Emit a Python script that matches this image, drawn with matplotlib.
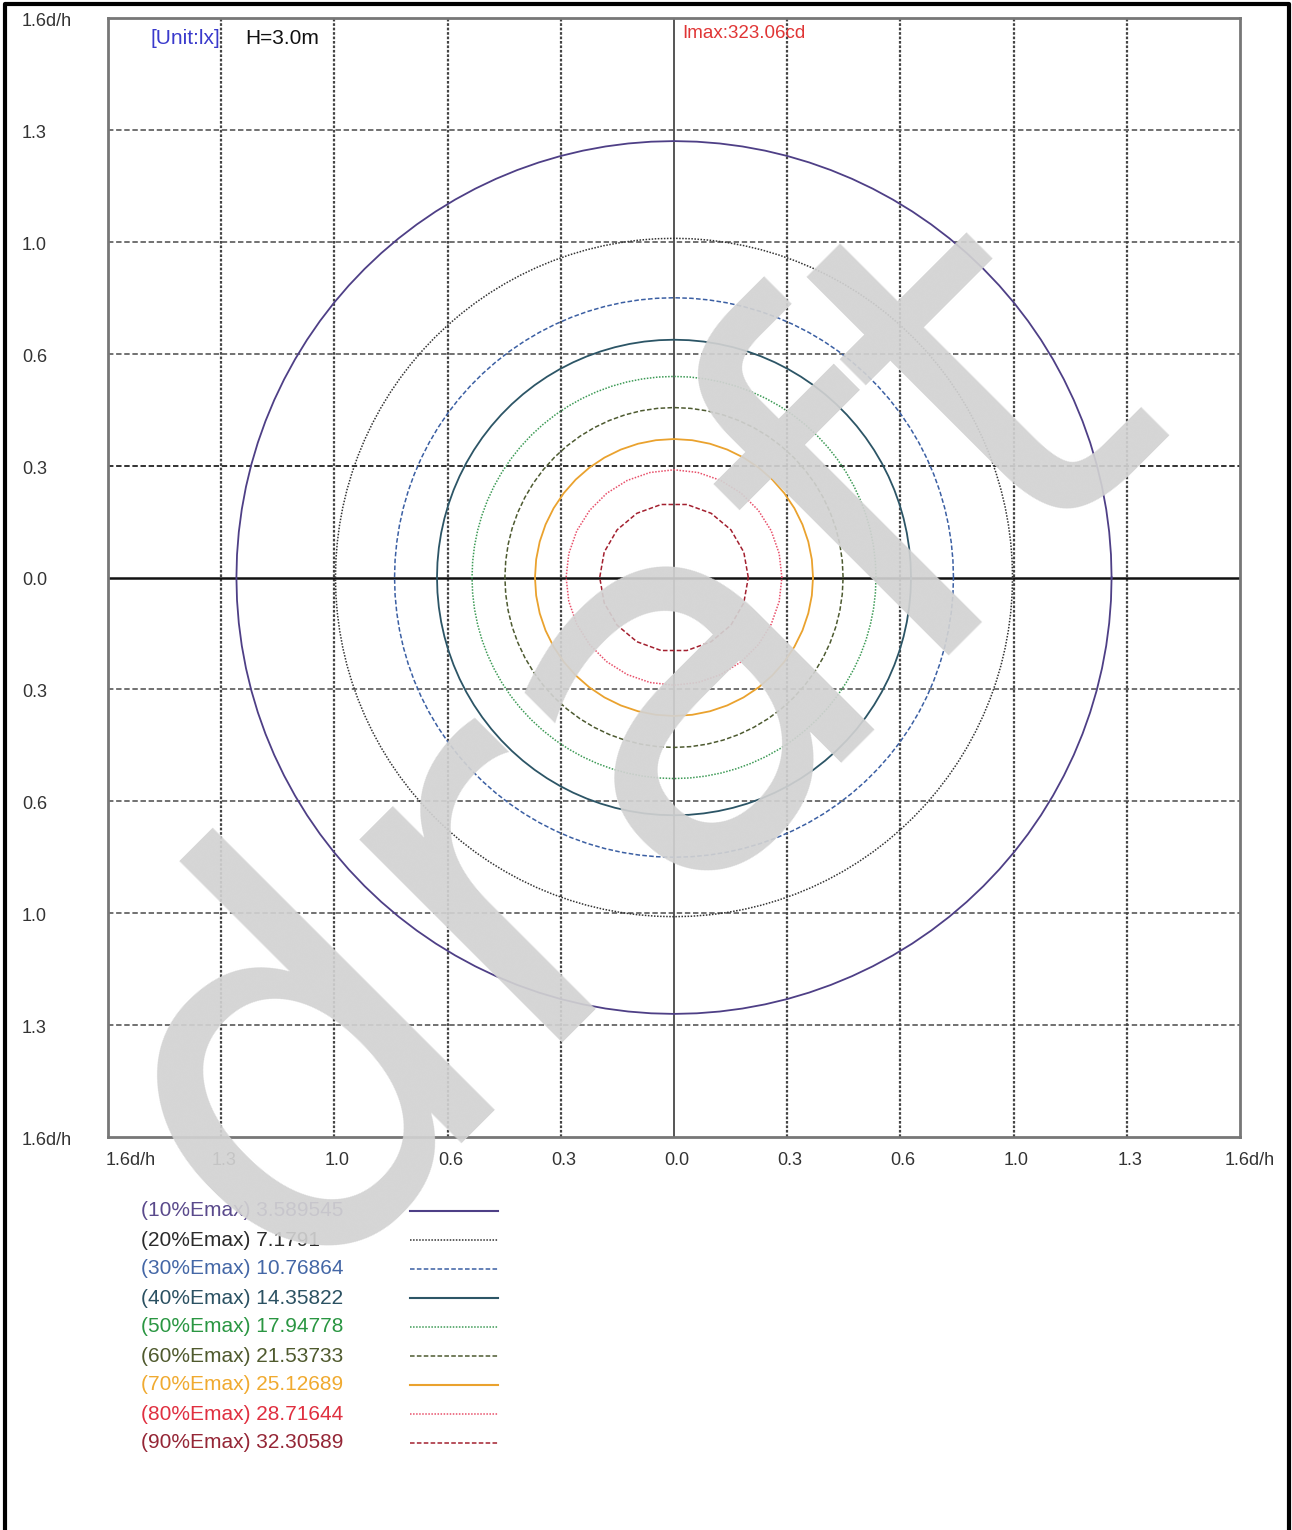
import numpy as np
import matplotlib
matplotlib.use('Agg')
import matplotlib.pyplot as plt
import matplotlib.transforms as mtrans
from matplotlib.lines import Line2D

plt.rcParams['font.family'] = ['Liberation Sans', 'DejaVu Sans']

# isolux levels
pct = [10, 20, 30, 40, 50, 60, 70, 80, 90]
lux = ['3.589545', '7.1791', '10.76864', '14.35822', '17.94778',
       '21.53733', '25.12689', '28.71644', '32.30589']
# contour half-widths (d/h) along x and y
rx = [1.237, 0.957, 0.790, 0.670, 0.571, 0.478, 0.393, 0.305, 0.210]
ry = [1.248, 0.970, 0.800, 0.680, 0.575, 0.486, 0.396, 0.308, 0.212]

tick_vals = [-1.6, -1.28, -0.96, -0.64, -0.32, 0.0, 0.32, 0.64, 0.96, 1.28, 1.6]
xtick_labels = ['1.6d/h', '1.3', '1.0', '0.6', '0.3', '0.0', '0.3', '0.6', '1.0', '1.3', '1.6d/h']
ytick_labels = ['1.6d/h', '1.3', '1.0', '0.6', '0.3', '0.0', '0.3', '0.6', '1.0', '1.3', '1.6d/h']

line_colors = ['#4e3f86', '#333333', '#3b5fa3', '#2c5566', '#3c9a55',
               '#4d5a30', '#eaa22e', '#e8506a', '#a3202f']
text_colors = ['#5a4a8c', '#2b2b2b', '#4467a6', '#2b5162', '#2a9642',
               '#4f5a2e', '#f0aa30', '#e03040', '#952636']
styles = ['-', (0, (1, 1)), (0, (3, 1.5)), '-', (0, (1, 1)),
          (0, (3, 1.5)), '-', (0, (1, 1)), (0, (3, 1.5))]
nseg = [120, 120, 100, 100, 80, 64, 48, 28, 18]

W, H = 1292, 1530
fig = plt.figure(figsize=(W / 100, H / 100), dpi=100)
ax = fig.add_axes([108 / W, 1 - 1137 / H, (1240 - 108) / W, (1137 - 18) / H])
ax.set_xlim(-1.6, 1.6)
ax.set_ylim(-1.6, 1.6)

# grid
for v in tick_vals[1:-1]:
    if abs(v) < 1e-9:
        continue
    ax.axvline(v, color='#444444', lw=1.6, ls=(0, (1.2, 0.8)), zorder=1)
    hc = '#222222' if abs(v - 0.32) < 1e-9 else '#666666'
    ax.axhline(v, color=hc, lw=1.3, ls=(0, (3, 1.5)), zorder=1)
ax.axvline(0, color='#555555', lw=1.4, zorder=1)
ax.axhline(0, color='#111111', lw=1.8, zorder=1)

# isolux contours
for i in range(len(pct)):
    t = np.linspace(0, 2 * np.pi, nseg[i] + 1)
    ax.plot(rx[i] * np.cos(t), ry[i] * np.sin(t), color=line_colors[i],
            ls=styles[i], lw=1.3 if styles[i] == '-' else 1.1, zorder=3)

for s in ax.spines.values():
    s.set_color('#777777')
    s.set_linewidth(2)
ax.set_xticks([])
ax.set_yticks([])

# tick labels
for i, (v, lab) in enumerate(zip(tick_vals, xtick_labels)):
    dx = 2
    if i == 0:
        dx = 16
    elif i == len(tick_vals) - 1:
        dx = 7
    ax.annotate(lab, xy=(v, 0), xycoords=('data', 'axes fraction'),
                xytext=(dx, -17), textcoords='offset points',
                ha='center', va='center', fontsize=13, color='#333333',
                annotation_clip=False)
ytr = mtrans.blended_transform_factory(fig.transFigure, ax.transData)
for v, lab in zip(tick_vals[::-1], ytick_labels):
    ax.annotate(lab, xy=(22 / W, -v), xycoords=ytr, xytext=(0, -2.5),
                textcoords='offset points', ha='left', va='center',
                fontsize=13, color='#333333', annotation_clip=False)

# header texts
fig.text(150 / W, 1 - 38 / H, '[Unit:lx]', color='#3a3acc', fontsize=15,
         ha='left', va='center')
fig.text(245 / W, 1 - 38 / H, 'H=3.0m', color='#111111', fontsize=15,
         ha='left', va='center')
fig.text(682 / W, 1 - 33 / H, 'Imax:323.06cd', color='#e03535', fontsize=13.5,
         ha='left', va='center')

# legend below the chart
for i in range(len(pct)):
    y = 1 - (1211 + 29 * i) / H
    fig.text(141 / W, y, f'({pct[i]}%Emax) {lux[i]}', color=text_colors[i],
             fontsize=15, ha='left', va='center')
    fig.add_artist(Line2D([410 / W, 498 / W], [y, y], color=line_colors[i],
                          ls=styles[i], lw=1.5 if styles[i] == '-' else 1.1))

# outer frame
fig.add_artist(Line2D([5 / W, 5 / W, 1289 / W, 1289 / W],
                      [0, 1 - 4 / H, 1 - 4 / H, 0], color='black', lw=3))

# watermark
fig.text(625 / W, 1 - 745 / H, 'draft', family='DejaVu Sans', fontsize=378,
         color='#d2d2d2', alpha=0.92, rotation=45, ha='center', va='center',
         rotation_mode='anchor', zorder=20)

fig.savefig('out.png', dpi=100)
